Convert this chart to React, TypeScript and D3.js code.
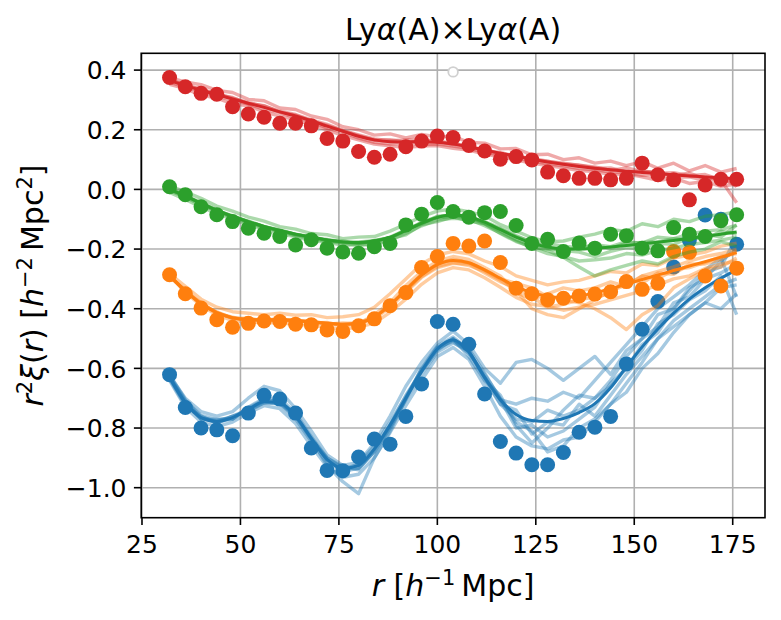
import React from "react";
import * as d3 from "d3";

// separation bins (h^-1 Mpc)
const rBins = [
  32, 36, 40, 44, 48, 52, 56, 60, 64, 68, 72, 76, 80, 84, 88, 92, 96, 100, 104,
  108, 112, 116, 120, 124, 128, 132, 136, 140, 144, 148, 152, 156, 160, 164,
  168, 172, 176,
];

const xTicks = [25, 50, 75, 100, 125, 150, 175];
const yTicks = [0.4, 0.2, 0.0, -0.2, -0.4, -0.6, -0.8, -1.0];

// ---- blue wedge ----
const bluePoints = [
  -0.621, -0.731, -0.8, -0.806, -0.826, -0.75, -0.69, -0.703, -0.75, -0.867,
  -0.942, -0.943, -0.897, -0.837, -0.854, -0.761, -0.652, -0.443, -0.452,
  -0.519, -0.686, -0.845, -0.884, -0.923, -0.923, -0.882, -0.814, -0.797,
  -0.761, -0.585, -0.469, -0.376, -0.26, -0.17, -0.086, -0.1, -0.184,
];
const blueModel = [
  -0.63, -0.715, -0.765, -0.778, -0.765, -0.738, -0.712, -0.715, -0.76, -0.835,
  -0.905, -0.935, -0.925, -0.87, -0.79, -0.7, -0.61, -0.535, -0.505, -0.545,
  -0.63, -0.705, -0.755, -0.775, -0.778, -0.768, -0.748, -0.718, -0.665,
  -0.595, -0.528, -0.468, -0.415, -0.368, -0.33, -0.298, -0.27,
];
const blueMocks = [
  [-0.625, -0.7, -0.745, -0.76, -0.745, -0.7, -0.66, -0.675, -0.735, -0.81, -0.89, -0.925, -0.915, -0.85, -0.76, -0.66, -0.58, -0.515, -0.475, -0.52, -0.6, -0.65, -0.58, -0.57, -0.6, -0.64, -0.6, -0.56, -0.62, -0.54, -0.5, -0.42, -0.4, -0.33, -0.3, -0.24, -0.2],
  [-0.64, -0.73, -0.78, -0.795, -0.78, -0.75, -0.725, -0.735, -0.785, -0.86, -0.93, -0.965, -0.955, -0.9, -0.815, -0.725, -0.64, -0.56, -0.53, -0.57, -0.66, -0.76, -0.83, -0.86, -0.87, -0.84, -0.83, -0.78, -0.72, -0.65, -0.58, -0.5, -0.44, -0.4, -0.36, -0.32, -0.3],
  [-0.62, -0.705, -0.77, -0.77, -0.77, -0.73, -0.7, -0.7, -0.75, -0.83, -0.9, -0.935, -0.935, -0.88, -0.8, -0.705, -0.6, -0.53, -0.5, -0.54, -0.64, -0.72, -0.74, -0.82, -0.78, -0.79, -0.72, -0.76, -0.69, -0.62, -0.56, -0.5, -0.46, -0.42, -0.38, -0.4, -0.35],
  [-0.635, -0.725, -0.76, -0.785, -0.76, -0.745, -0.715, -0.72, -0.77, -0.845, -0.915, -0.945, -0.935, -0.88, -0.79, -0.69, -0.61, -0.54, -0.5, -0.56, -0.64, -0.69, -0.79, -0.85, -0.8, -0.74, -0.69, -0.7, -0.64, -0.56, -0.5, -0.46, -0.38, -0.36, -0.3, -0.28, -0.25],
  [-0.628, -0.712, -0.762, -0.78, -0.77, -0.735, -0.71, -0.71, -0.755, -0.83, -0.91, -0.94, -0.92, -0.86, -0.78, -0.695, -0.605, -0.53, -0.51, -0.55, -0.62, -0.7, -0.78, -0.81, -0.88, -0.86, -0.8, -0.77, -0.72, -0.68, -0.6, -0.55, -0.48, -0.42, -0.38, -0.33, -0.32],
  [-0.632, -0.718, -0.768, -0.775, -0.762, -0.74, -0.715, -0.718, -0.765, -0.84, -0.9, -0.93, -0.94, -0.875, -0.795, -0.705, -0.62, -0.545, -0.515, -0.54, -0.63, -0.72, -0.77, -0.78, -0.74, -0.76, -0.74, -0.7, -0.66, -0.6, -0.54, -0.45, -0.42, -0.37, -0.34, -0.29, -0.42],
  [-0.626, -0.708, -0.758, -0.772, -0.768, -0.732, -0.705, -0.712, -0.758, -0.838, -0.925, -0.98, -1.02, -0.9, -0.81, -0.7, -0.6, -0.525, -0.495, -0.535, -0.615, -0.705, -0.8, -0.79, -0.83, -0.81, -0.77, -0.73, -0.65, -0.6, -0.52, -0.48, -0.4, -0.34, -0.28, -0.26, -0.16],
  [-0.63, -0.72, -0.77, -0.78, -0.76, -0.738, -0.712, -0.715, -0.76, -0.835, -0.905, -0.935, -0.925, -0.87, -0.79, -0.7, -0.61, -0.535, -0.505, -0.545, -0.63, -0.705, -0.72, -0.7, -0.71, -0.68, -0.7, -0.64, -0.58, -0.52, -0.46, -0.4, -0.36, -0.32, -0.27, -0.23, -0.36],
];

// ---- orange wedge ----
const orangePoints = [
  -0.286, -0.35, -0.398, -0.437, -0.462, -0.449, -0.441, -0.443, -0.452,
  -0.454, -0.471, -0.476, -0.457, -0.434, -0.39, -0.346, -0.262, -0.225,
  -0.181, -0.19, -0.173, -0.245, -0.331, -0.35, -0.37, -0.365, -0.357, -0.351,
  -0.343, -0.309, -0.335, -0.315, -0.208, -0.211, -0.29, -0.324, -0.264,
];
const orangeModel = [
  -0.29, -0.34, -0.383, -0.413, -0.43, -0.436, -0.437, -0.437, -0.44, -0.444,
  -0.449, -0.452, -0.448, -0.428, -0.388, -0.337, -0.287, -0.252, -0.238,
  -0.246, -0.27, -0.298, -0.326, -0.346, -0.358, -0.362, -0.357, -0.347,
  -0.333, -0.318, -0.302, -0.287, -0.272, -0.257, -0.242, -0.227, -0.212,
];
const orangeMocks = [
  [-0.282, -0.325, -0.368, -0.395, -0.41, -0.415, -0.42, -0.415, -0.422, -0.42, -0.43, -0.427, -0.42, -0.395, -0.35, -0.3, -0.25, -0.22, -0.208, -0.216, -0.24, -0.258, -0.29, -0.305, -0.32, -0.31, -0.305, -0.29, -0.275, -0.28, -0.25, -0.255, -0.23, -0.22, -0.21, -0.19, -0.18],
  [-0.288, -0.345, -0.39, -0.42, -0.44, -0.445, -0.446, -0.448, -0.452, -0.456, -0.462, -0.468, -0.462, -0.448, -0.412, -0.368, -0.318, -0.28, -0.262, -0.27, -0.296, -0.328, -0.362, -0.385, -0.392, -0.405, -0.395, -0.385, -0.37, -0.355, -0.34, -0.32, -0.3, -0.29, -0.265, -0.25, -0.24],
  [-0.291, -0.338, -0.385, -0.41, -0.433, -0.432, -0.44, -0.432, -0.445, -0.44, -0.452, -0.448, -0.45, -0.42, -0.38, -0.322, -0.275, -0.24, -0.225, -0.235, -0.262, -0.29, -0.345, -0.37, -0.35, -0.33, -0.34, -0.33, -0.31, -0.325, -0.29, -0.3, -0.27, -0.262, -0.245, -0.225, -0.215],
  [-0.289, -0.342, -0.38, -0.416, -0.428, -0.44, -0.434, -0.442, -0.436, -0.448, -0.446, -0.458, -0.445, -0.435, -0.395, -0.345, -0.295, -0.262, -0.248, -0.25, -0.28, -0.31, -0.33, -0.36, -0.395, -0.385, -0.37, -0.36, -0.35, -0.3, -0.315, -0.28, -0.285, -0.25, -0.25, -0.235, -0.205],
  [-0.29, -0.34, -0.386, -0.412, -0.431, -0.437, -0.438, -0.436, -0.441, -0.443, -0.45, -0.452, -0.447, -0.428, -0.39, -0.335, -0.285, -0.25, -0.235, -0.246, -0.27, -0.3, -0.315, -0.33, -0.36, -0.37, -0.38, -0.4, -0.43, -0.47, -0.42, -0.39, -0.33, -0.3, -0.27, -0.26, -0.23],
  [-0.29, -0.342, -0.381, -0.414, -0.432, -0.434, -0.441, -0.438, -0.437, -0.446, -0.448, -0.455, -0.452, -0.43, -0.385, -0.34, -0.292, -0.258, -0.245, -0.255, -0.275, -0.305, -0.34, -0.4, -0.42, -0.43, -0.4, -0.37, -0.34, -0.32, -0.29, -0.275, -0.26, -0.24, -0.225, -0.215, -0.2],
];

// ---- green wedge ----
const greenPoints = [
  0.009, -0.018, -0.058, -0.085, -0.108, -0.13, -0.147, -0.158, -0.186, -0.169,
  -0.197, -0.21, -0.214, -0.192, -0.181, -0.119, -0.083, -0.044, -0.074,
  -0.093, -0.078, -0.074, -0.121, -0.181, -0.167, -0.208, -0.18, -0.197,
  -0.15, -0.155, -0.197, -0.206, -0.128, -0.15, -0.158, -0.105, -0.085,
];
const greenModel = [
  0.0, -0.022, -0.047, -0.07, -0.09, -0.108, -0.124, -0.138, -0.15, -0.16,
  -0.169, -0.176, -0.178, -0.173, -0.16, -0.138, -0.113, -0.094, -0.086,
  -0.092, -0.11, -0.135, -0.16, -0.18, -0.193, -0.199, -0.2, -0.197, -0.193,
  -0.188, -0.183, -0.177, -0.171, -0.164, -0.157, -0.15, -0.143,
];
const greenMocks = [
  [0.012, -0.008, -0.03, -0.056, -0.073, -0.093, -0.106, -0.125, -0.133, -0.148, -0.152, -0.165, -0.16, -0.158, -0.14, -0.117, -0.091, -0.073, -0.065, -0.075, -0.088, -0.118, -0.14, -0.162, -0.176, -0.173, -0.16, -0.15, -0.135, -0.14, -0.115, -0.125, -0.1, -0.108, -0.09, -0.085, -0.075],
  [-0.004, -0.026, -0.052, -0.073, -0.096, -0.112, -0.13, -0.14, -0.157, -0.163, -0.176, -0.18, -0.188, -0.18, -0.17, -0.148, -0.122, -0.103, -0.097, -0.1, -0.122, -0.146, -0.172, -0.195, -0.215, -0.225, -0.24, -0.236, -0.23, -0.215, -0.22, -0.205, -0.196, -0.185, -0.178, -0.17, -0.16],
  [0.002, -0.02, -0.045, -0.068, -0.091, -0.106, -0.126, -0.137, -0.152, -0.158, -0.172, -0.173, -0.182, -0.171, -0.163, -0.135, -0.116, -0.09, -0.088, -0.09, -0.112, -0.133, -0.158, -0.175, -0.196, -0.205, -0.21, -0.225, -0.208, -0.195, -0.2, -0.18, -0.185, -0.16, -0.168, -0.14, -0.15],
  [-0.01, -0.034, -0.059, -0.081, -0.099, -0.12, -0.132, -0.15, -0.158, -0.173, -0.176, -0.188, -0.184, -0.187, -0.165, -0.152, -0.118, -0.108, -0.092, -0.106, -0.115, -0.148, -0.175, -0.193, -0.2, -0.206, -0.195, -0.185, -0.192, -0.175, -0.18, -0.16, -0.165, -0.15, -0.14, -0.135, -0.12],
  [0.001, -0.021, -0.047, -0.069, -0.092, -0.107, -0.124, -0.139, -0.15, -0.16, -0.171, -0.177, -0.18, -0.175, -0.16, -0.136, -0.112, -0.095, -0.09, -0.094, -0.115, -0.14, -0.168, -0.19, -0.205, -0.228, -0.26, -0.29, -0.27, -0.255, -0.24, -0.25, -0.225, -0.21, -0.2, -0.175, -0.19],
  [0.0, -0.023, -0.046, -0.072, -0.088, -0.109, -0.125, -0.136, -0.151, -0.161, -0.168, -0.176, -0.176, -0.172, -0.162, -0.139, -0.11, -0.092, -0.084, -0.091, -0.108, -0.13, -0.155, -0.178, -0.182, -0.19, -0.195, -0.19, -0.198, -0.18, -0.178, -0.175, -0.165, -0.17, -0.15, -0.16, -0.12],
];

// ---- red wedge ----
const redPoints = [
  0.375, 0.344, 0.322, 0.319, 0.277, 0.253, 0.242, 0.222, 0.222, 0.213, 0.171,
  0.162, 0.127, 0.108, 0.118, 0.143, 0.162, 0.179, 0.174, 0.147, 0.129, 0.101,
  0.11, 0.099, 0.058, 0.046, 0.037, 0.037, 0.032, 0.037, 0.088, 0.049, 0.032,
  -0.035, 0.015, 0.034, 0.034,
];
const redModel = [
  0.365, 0.348, 0.332, 0.318, 0.303, 0.289, 0.275, 0.26, 0.246, 0.23, 0.212,
  0.195, 0.178, 0.166, 0.16, 0.159, 0.16, 0.158, 0.152, 0.143, 0.132, 0.121,
  0.111, 0.101, 0.092, 0.084, 0.077, 0.071, 0.066, 0.061, 0.057, 0.053, 0.049,
  0.045, 0.042, 0.039, 0.036,
];
const redMocks = [
  [0.376, 0.36, 0.351, 0.332, 0.325, 0.302, 0.297, 0.273, 0.268, 0.246, 0.235, 0.21, 0.2, 0.182, 0.186, 0.173, 0.184, 0.176, 0.178, 0.158, 0.155, 0.136, 0.137, 0.116, 0.118, 0.1, 0.106, 0.088, 0.095, 0.08, 0.093, 0.071, 0.088, 0.062, 0.08, 0.058, 0.07],
  [0.36, 0.343, 0.33, 0.313, 0.3, 0.286, 0.268, 0.258, 0.24, 0.228, 0.205, 0.192, 0.172, 0.158, 0.152, 0.155, 0.15, 0.152, 0.145, 0.137, 0.124, 0.115, 0.104, 0.096, 0.085, 0.079, 0.07, 0.066, 0.058, 0.055, 0.047, 0.05, 0.04, 0.042, 0.03, 0.034, 0.022],
  [0.366, 0.35, 0.335, 0.32, 0.306, 0.291, 0.279, 0.262, 0.251, 0.233, 0.218, 0.198, 0.183, 0.169, 0.163, 0.166, 0.168, 0.16, 0.157, 0.14, 0.135, 0.118, 0.115, 0.1, 0.094, 0.088, 0.08, 0.075, 0.064, 0.072, 0.06, 0.058, 0.045, 0.055, 0.035, 0.041, 0.01],
  [0.352, 0.338, 0.316, 0.306, 0.287, 0.28, 0.26, 0.246, 0.234, 0.216, 0.2, 0.18, 0.166, 0.152, 0.146, 0.14, 0.145, 0.147, 0.138, 0.132, 0.118, 0.11, 0.098, 0.088, 0.08, 0.072, 0.063, 0.06, 0.05, 0.052, 0.042, 0.03, 0.038, 0.02, 0.027, 0.01, 0.018],
  [0.368, 0.349, 0.336, 0.318, 0.308, 0.288, 0.281, 0.259, 0.249, 0.229, 0.215, 0.196, 0.18, 0.165, 0.167, 0.158, 0.162, 0.163, 0.15, 0.146, 0.13, 0.124, 0.11, 0.104, 0.095, 0.085, 0.082, 0.071, 0.072, 0.058, 0.063, 0.054, 0.056, 0.046, 0.05, 0.032, -0.045],
];

// stray masked point (light grey open marker)
const strayR = [104];
const strayV = [0.394];

const wedges = [
  { color: "#1f77b4", points: bluePoints, model: blueModel, mocks: blueMocks },
  { color: "#ff7f0e", points: orangePoints, model: orangeModel, mocks: orangeMocks },
  { color: "#2ca02c", points: greenPoints, model: greenModel, mocks: greenMocks },
  { color: "#d62728", points: redPoints, model: redModel, mocks: redMocks },
];

const W = 781;
const H = 620;
const left = 141.2;
const right = 765;
const top = 53.3;
const bottom = 517.7;
const FONT = "DejaVu Sans, sans-serif";

export default function App() {
  const x = d3.scaleLinear().domain([24.8, 183.2]).range([left, right]);
  const y = d3.scaleLinear().domain([-1.1006, 0.4563]).range([bottom, top]);

  // mocks are plain polylines, the model a smooth curve
  const jagged = d3
    .line<number>()
    .x((_, i) => x(rBins[i]))
    .y((d) => y(d));
  const smooth = d3
    .line<number>()
    .x((_, i) => x(rBins[i]))
    .y((d) => y(d))
    .curve(d3.curveMonotoneX);

  const fmt = (v: number) => d3.format(".1f")(v).replace("-", "\u2212");

  return (
    <svg
      width={W}
      height={H}
      style={{ position: "absolute", left: 0, top: 0, background: "#fff" }}
      fontFamily={FONT}
    >
      <rect x={0} y={0} width={W} height={H} fill="#fff" />
      {/* grid */}
      <g stroke="#b0b0b0" strokeWidth={1.6}>
        {xTicks.map((t) => (
          <line key={"gx" + t} x1={x(t)} x2={x(t)} y1={top} y2={bottom} />
        ))}
        {yTicks.map((t) => (
          <line key={"gy" + t} x1={left} x2={right} y1={y(t)} y2={y(t)} />
        ))}
      </g>

      <defs>
        <clipPath id="plotArea">
          <rect x={left} y={top} width={right - left} height={bottom - top} />
        </clipPath>
      </defs>

      <g clipPath="url(#plotArea)">
        {wedges.map((w, wi) => (
          <g key={"w" + wi}>
            {w.mocks.map((m, mi) => (
              <path
                key={"m" + mi}
                d={jagged(m) ?? ""}
                fill="none"
                stroke={w.color}
                strokeOpacity={0.4}
                strokeWidth={3.4}
                strokeLinejoin="round"
              />
            ))}
            <path d={smooth(w.model) ?? ""} fill="none" stroke={w.color} strokeWidth={3} />
            {w.points.map((v, i) => (
              <circle key={"p" + i} cx={x(rBins[i])} cy={y(v)} r={7.5} fill={w.color} />
            ))}
          </g>
        ))}
        {strayR.map((r, i) => (
          <circle
            key={"s" + i}
            cx={x(r)}
            cy={y(strayV[i])}
            r={4.8}
            fill="#fff"
            stroke="#d0d0d0"
            strokeWidth={1.8}
          />
        ))}
      </g>

      {/* spines */}
      <rect
        x={left}
        y={top}
        width={right - left}
        height={bottom - top}
        fill="none"
        stroke="#000"
        strokeWidth={1.6}
      />

      {/* x ticks */}
      {xTicks.map((t) => (
        <g key={"xt" + t}>
          <line x1={x(t)} x2={x(t)} y1={bottom} y2={bottom + 7.3} stroke="#000" strokeWidth={1.6} />
          <text x={x(t)} y={553} textAnchor="middle" fontSize={25} fill="#000">
            {t}
          </text>
        </g>
      ))}
      {/* y ticks */}
      {yTicks.map((t) => (
        <g key={"yt" + t}>
          <line x1={left - 7.3} x2={left} y1={y(t)} y2={y(t)} stroke="#000" strokeWidth={1.6} />
          <text x={126.5} y={y(t) + 9.2} textAnchor="end" fontSize={25} fill="#000">
            {fmt(t)}
          </text>
        </g>
      ))}

      {/* title */}
      <text x={(left + right) / 2} y={40} textAnchor="middle" fontSize={30} fill="#000">
        <tspan>Ly</tspan>
        <tspan fontStyle="italic">α</tspan>
        <tspan>(A)×Ly</tspan>
        <tspan fontStyle="italic">α</tspan>
        <tspan>(A)</tspan>
      </text>

      {/* x label */}
      <text x={(left + right) / 2} y={596} textAnchor="middle" fontSize={30} fill="#000">
        <tspan fontStyle="italic">r</tspan>
        <tspan> [</tspan>
        <tspan fontStyle="italic">h</tspan>
        <tspan fontSize={21} dy={-11}>−1</tspan>
        <tspan dy={11}>{"\u2009"}Mpc]</tspan>
      </text>

      {/* y label */}
      <text
        transform={`translate(43,${(top + bottom) / 2}) rotate(-90)`}
        textAnchor="middle"
        fontSize={30}
        fill="#000"
      >
        <tspan fontStyle="italic">r</tspan>
        <tspan fontSize={21} dy={-11}>2</tspan>
        <tspan fontStyle="italic" dy={11}>ξ</tspan>
        <tspan>(</tspan>
        <tspan fontStyle="italic">r</tspan>
        <tspan>) [</tspan>
        <tspan fontStyle="italic">h</tspan>
        <tspan fontSize={21} dy={-11}>−2</tspan>
        <tspan dy={11}>{"\u2009"}Mpc</tspan>
        <tspan fontSize={21} dy={-11}>2</tspan>
        <tspan dy={11}>]</tspan>
      </text>
    </svg>
  );
}
